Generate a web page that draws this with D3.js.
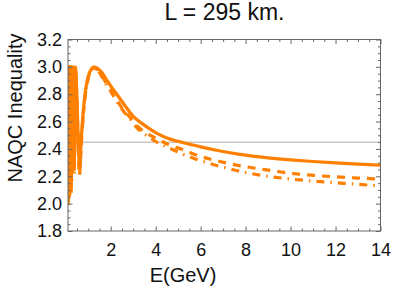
<!DOCTYPE html>
<html>
<head>
<meta charset="utf-8">
<script src="https://cdn.jsdelivr.net/npm/d3@7"></script>
<style>
  body { margin: 0; background: #fff; }
  svg { display: block; font-family: "Liberation Sans", Arial, sans-serif; }
</style>
</head>
<body>
<svg id="svg" width="393" height="294"></svg>
<script>
// energies (GeV) shared by the fast-oscillation band at low E
const eBand = [0.100, 0.104, 0.108, 0.112, 0.117, 0.122, 0.128, 0.134, 0.141, 0.149, 0.158,
  0.168, 0.179, 0.192, 0.207, 0.224, 0.244, 0.268, 0.297, 0.332, 0.375, 0.430];
// energies for the smooth part, after the band
const eSolid = [0.48, 0.53, 0.58, 0.61, 0.64, 0.70, 0.78, 0.88, 1.0, 1.12, 1.25, 1.4, 1.6, 1.8, 2.0,
  2.27, 2.6, 3.0, 3.4, 3.75, 4.1, 4.5, 5.0, 5.5, 6.0, 6.7, 7.75, 9, 10, 11, 12, 13, 14];
const eDash = [0.48, 0.53, 0.58, 0.61, 0.64, 0.70, 0.78, 0.88, 1.0, 1.12, 1.25, 1.4, 1.6, 1.8, 2.0,
  2.5, 2.86, 3.16, 3.5, 4.0, 4.6, 5.2, 6.0, 6.8, 7.6, 8.5, 9.3, 10, 11, 12, 13, 14];
const eDotDash = [0.48, 0.53, 0.58, 0.61, 0.64, 0.70, 0.78, 0.88, 1.0, 1.12, 1.25, 1.4, 1.6, 1.8, 2.0,
  2.5, 2.86, 3.16, 3.67, 4.1, 4.7, 5.2, 5.8, 6.8, 8, 9, 10, 11, 12, 13, 14];

const bandSolid = [2.06, 3.0, 2.05, 2.99, 2.08, 3.0, 2.07, 2.98, 2.1, 3.0, 2.12, 2.99, 2.1, 3.0,
  2.18, 2.98, 2.15, 3.0, 2.25, 2.99, 2.3, 3.0];
const bandDash = [2.0, 2.99, 2.02, 3.0, 2.04, 2.98, 2.03, 3.0, 2.06, 2.99, 2.08, 3.0, 2.07, 2.99,
  2.12, 3.0, 2.1, 2.99, 2.2, 3.0, 2.24, 2.99];
const bandDotDash = [2.01, 3.0, 2.0, 2.99, 2.03, 3.0, 2.02, 2.99, 2.05, 3.0, 2.06, 2.98, 2.05, 3.0,
  2.1, 2.99, 2.08, 3.0, 2.18, 2.98, 2.22, 3.0];

const vSolid = [2.85, 2.6, 2.35, 2.28, 2.33, 2.5, 2.68, 2.83, 2.93, 2.98, 3.0, 2.99, 2.96, 2.91, 2.86,
  2.80, 2.725, 2.638, 2.585, 2.545, 2.51, 2.48, 2.455, 2.435, 2.415, 2.39, 2.36, 2.335, 2.32, 2.308,
  2.298, 2.289, 2.282];
const vDash = [2.83, 2.55, 2.3, 2.21, 2.27, 2.46, 2.65, 2.81, 2.92, 2.97, 2.99, 2.98, 2.94, 2.88, 2.83,
  2.70, 2.63, 2.57, 2.525, 2.48, 2.43, 2.395, 2.345, 2.31, 2.282, 2.257, 2.238, 2.222, 2.207, 2.196,
  2.187, 2.18];
const vDotDash = [2.83, 2.55, 2.3, 2.21, 2.27, 2.46, 2.65, 2.81, 2.92, 2.97, 2.99, 2.98, 2.93, 2.87, 2.82,
  2.69, 2.62, 2.555, 2.49, 2.445, 2.40, 2.362, 2.325, 2.275, 2.228, 2.2, 2.18, 2.165, 2.153, 2.141, 2.13];

const bound = 2.449; // sqrt(6)
const xTicks = [2, 4, 6, 8, 10, 12, 14];
const yTicks = [1.8, 2.0, 2.2, 2.4, 2.6, 2.8, 3.0, 3.2];

const width = 393, height = 294;
const margin = { top: 39.5, right: 12.5, bottom: 63, left: 68 };
const orange = "#ff8000";

const x = d3.scaleLinear().domain([0.1, 14]).range([margin.left, width - margin.right]);
const y = d3.scaleLinear().domain([1.8, 3.2]).range([height - margin.bottom, margin.top]);

const svg = d3.select("#svg");

svg.append("clipPath").attr("id", "clip")
  .append("rect")
  .attr("x", margin.left).attr("y", margin.top)
  .attr("width", x.range()[1] - x.range()[0])
  .attr("height", y.range()[0] - y.range()[1]);

const plot = svg.append("g").attr("clip-path", "url(#clip)");

plot.append("line")
  .attr("x1", x.range()[0]).attr("x2", x.range()[1])
  .attr("y1", y(bound)).attr("y2", y(bound))
  .attr("stroke", "#c8c8c8").attr("stroke-width", 1.5);

const line = d3.line()
  .x(d => x(d[0]))
  .y(d => y(d[1]))
  .curve(d3.curveMonotoneX);

function series(band, es, vs) {
  return eBand.map((e, i) => [e, band[i]]).concat(es.map((e, i) => [e, vs[i]]));
}

const curves = [
  { pts: series(bandSolid, eSolid, vSolid), dash: null },
  { pts: series(bandDash, eDash, vDash), dash: "8,7" },
  { pts: series(bandDotDash, eDotDash, vDotDash), dash: "8,6,1.5,6" }
];

plot.selectAll("path.curve")
  .data(curves)
  .join("path")
  .attr("class", "curve")
  .attr("d", d => line(d.pts))
  .attr("fill", "none")
  .attr("stroke", orange)
  .attr("stroke-width", 3.2)
  .attr("stroke-dasharray", d => d.dash);

// frame ticks (inward), major + minor, on all four sides
const frameCol = "#666";
const xMinor = d3.range(0.5, 14.01, 0.5).filter(v => v % 2 !== 0);
const yMinor = d3.range(1.8, 3.201, 0.05).filter(v => Math.abs(v * 5 - Math.round(v * 5)) > 1e-6);

function styleAxis(g) {
  g.select(".domain").remove();
  g.selectAll(".tick line").attr("stroke", frameCol);
  g.selectAll(".tick text").attr("fill", "#111").attr("font-size", 18);
}

svg.append("g").attr("transform", `translate(0,${y.range()[0]})`)
  .call(d3.axisBottom(x).tickValues(xTicks).tickSize(-4.5).tickPadding(12).tickFormat(d3.format("d")))
  .call(styleAxis);
svg.append("g").attr("transform", `translate(0,${y.range()[0]})`)
  .call(d3.axisBottom(x).tickValues(xMinor).tickSize(-2.5).tickFormat(""))
  .call(styleAxis);
svg.append("g").attr("transform", `translate(0,${y.range()[1]})`)
  .call(d3.axisTop(x).tickValues(xTicks).tickSize(-4.5).tickFormat(""))
  .call(styleAxis);
svg.append("g").attr("transform", `translate(0,${y.range()[1]})`)
  .call(d3.axisTop(x).tickValues(xMinor).tickSize(-2.5).tickFormat(""))
  .call(styleAxis);

svg.append("g").attr("transform", `translate(${x.range()[0]},0)`)
  .call(d3.axisLeft(y).tickValues(yTicks).tickSize(-4.5).tickPadding(6).tickFormat(d3.format(".1f")))
  .call(styleAxis);
svg.append("g").attr("transform", `translate(${x.range()[0]},0)`)
  .call(d3.axisLeft(y).tickValues(yMinor).tickSize(-2.5).tickFormat(""))
  .call(styleAxis);
svg.append("g").attr("transform", `translate(${x.range()[1]},0)`)
  .call(d3.axisRight(y).tickValues(yTicks).tickSize(-4.5).tickFormat(""))
  .call(styleAxis);
svg.append("g").attr("transform", `translate(${x.range()[1]},0)`)
  .call(d3.axisRight(y).tickValues(yMinor).tickSize(-2.5).tickFormat(""))
  .call(styleAxis);

svg.append("rect")
  .attr("x", x.range()[0]).attr("y", y.range()[1])
  .attr("width", x.range()[1] - x.range()[0])
  .attr("height", y.range()[0] - y.range()[1])
  .attr("fill", "none").attr("stroke", frameCol).attr("stroke-width", 1);

// labels
svg.append("text")
  .attr("x", 224.5).attr("y", 20)
  .attr("text-anchor", "middle")
  .attr("font-size", 23).attr("fill", "#111")
  .text("L = 295 km.");

svg.append("text")
  .attr("x", 183).attr("y", 282)
  .attr("text-anchor", "middle")
  .attr("font-size", 20).attr("fill", "#111")
  .text("E(GeV)");

svg.append("text")
  .attr("transform", "translate(22,108) rotate(-90)")
  .attr("text-anchor", "middle")
  .attr("font-size", 20).attr("fill", "#111")
  .text("NAQC Inequality");
</script>
</body>
</html>
